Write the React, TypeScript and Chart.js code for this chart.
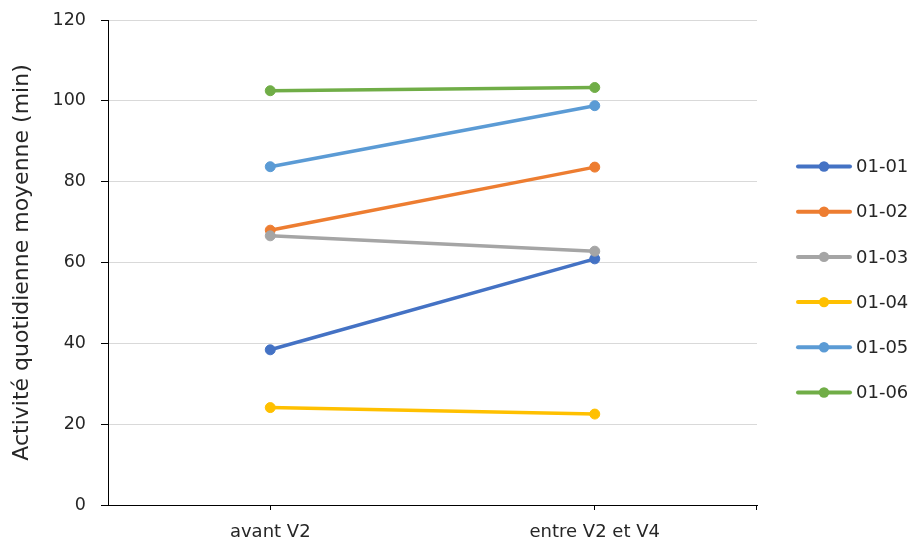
import React, { useEffect, useRef } from 'react';
import { Chart, registerables } from 'chart.js';

Chart.register(...registerables);

const categories = ['avant V2', 'entre V2 et V4'];
const seriesNames = ['01-01', '01-02', '01-03', '01-04', '01-05', '01-06'];
const s0101 = [38.4, 60.9];
const s0102 = [68.0, 83.6];
const s0103 = [66.6, 62.8];
const s0104 = [24.1, 22.5];
const s0105 = [83.7, 98.8];
const s0106 = [102.5, 103.3];
const seriesColors = ['#4472C4', '#ED7D31', '#A5A5A5', '#FFC000', '#5B9BD5', '#70AD47'];
const yTitle = 'Activité quotidienne moyenne (min)';
const yMin = 0;
const yMax = 120;
const yStep = 20;

const FONT = '"DejaVu Sans", sans-serif';
const TEXT = '#262626';

export default function App() {
  const ref = useRef<HTMLCanvasElement>(null);

  useEffect(() => {
    const canvas = ref.current;
    if (!canvas) return;
    const values = [s0101, s0102, s0103, s0104, s0105, s0106];

    const sideLegend = {
      id: 'sideLegend',
      afterDraw(chart: any) {
        const ctx = chart.ctx;
        const ds = chart.data.datasets;
        const n = ds.length;
        const cy = 279.5;
        const gap = 45.2;
        ctx.save();
        ds.forEach((d: any, i: number) => {
          const y = cy + (i - (n - 1) / 2) * gap;
          ctx.strokeStyle = d.borderColor;
          ctx.lineWidth = 4;
          ctx.lineCap = 'round';
          ctx.beginPath();
          ctx.moveTo(798, y);
          ctx.lineTo(850, y);
          ctx.stroke();
          ctx.fillStyle = d.borderColor;
          ctx.beginPath();
          ctx.arc(824, y, 5.2, 0, Math.PI * 2);
          ctx.fill();
          ctx.fillStyle = TEXT;
          ctx.font = `18px ${FONT}`;
          ctx.textBaseline = 'middle';
          ctx.textAlign = 'left';
          ctx.fillText(d.label, 856, y + 1);
        });
        const { right, bottom } = chart.chartArea;
        ctx.strokeStyle = '#000';
        ctx.lineWidth = 1;
        ctx.lineCap = 'butt';
        ctx.beginPath();
        const x = Math.round(right) - 0.5;
        ctx.moveTo(x, bottom);
        ctx.lineTo(x, bottom + 5);
        ctx.stroke();
        ctx.restore();
      },
    };

    const chart = new Chart(canvas, {
      type: 'line',
      data: {
        labels: categories,
        datasets: values.map((v, i) => ({
          label: seriesNames[i],
          data: v,
          borderColor: seriesColors[i],
          backgroundColor: seriesColors[i],
          pointBackgroundColor: seriesColors[i],
          pointBorderColor: seriesColors[i],
          pointRadius: 5,
          pointBorderWidth: 1,
          borderWidth: 3.5,
          tension: 0,
          fill: false,
          order: values.length - i,
        })),
      },
      options: {
        responsive: false,
        animation: false,
        devicePixelRatio: 1,
        layout: { padding: { top: 20, right: 157, left: 0, bottom: 0 } },
        plugins: {
          legend: { display: false },
          tooltip: { enabled: false },
        },
        scales: {
          x: {
            type: 'category',
            offset: true,
            grid: {
              display: true,
              drawOnChartArea: false,
              drawTicks: true,
              tickLength: 5,
              tickColor: '#000',
              offset: false,
            },
            border: { display: true, color: '#000', width: 1 },
            ticks: {
              color: TEXT,
              font: { family: FONT, size: 18 },
              padding: 12,
              maxRotation: 0,
            },
            afterFit: (s: any) => {
              s.height = 45;
            },
          },
          y: {
            min: yMin,
            max: yMax,
            ticks: {
              stepSize: yStep,
              color: TEXT,
              font: { family: FONT, size: 17.5 },
              padding: 15,
            },
            grid: {
              color: '#D9D9D9',
              lineWidth: 1,
              tickColor: '#000',
              tickLength: 7,
            },
            border: { display: true, color: '#000', width: 1 },
            title: {
              display: true,
              text: yTitle,
              color: TEXT,
              font: { family: FONT, size: 22 },
              padding: { top: 9, bottom: 0 },
            },
            afterFit: (s: any) => {
              s.width = 108;
              s.paddingTop = 10;
              s.paddingBottom = 10;
            },
          },
        },
      },
      plugins: [sideLegend],
    } as any);

    return () => chart.destroy();
  }, []);

  return (
    <div style={{ position: 'absolute', left: 0, top: 0, width: 914, height: 550, background: '#fff' }}>
      <canvas ref={ref} width={914} height={550} style={{ display: 'block' }} />
    </div>
  );
}
